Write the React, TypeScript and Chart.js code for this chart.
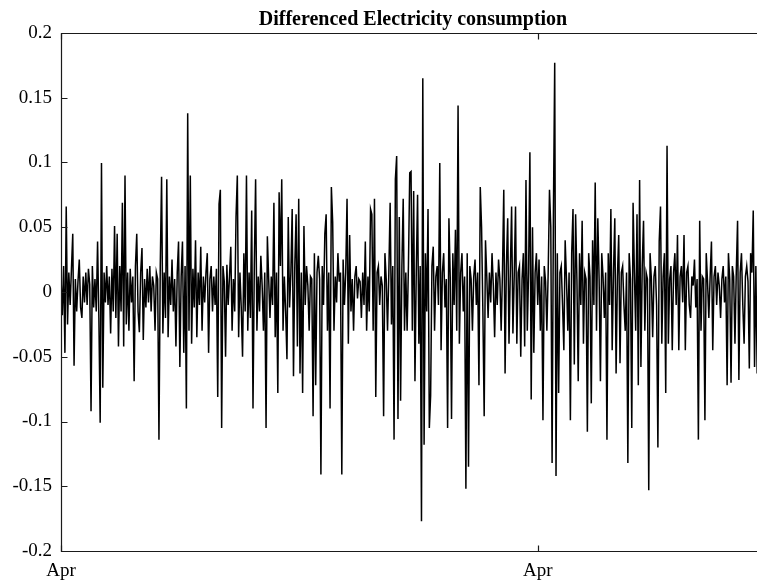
import React, { useEffect, useRef } from "react";
import { Chart, registerables } from "chart.js";

Chart.register(...registerables);

const titleText = "Differenced Electricity consumption";

// daily differenced consumption, starting in April
const diffValues: number[] = [
  0.012, -0.018, 0.02, -0.047, 0.066, -0.025, 0.015, -0.01, 0.018, 0.045, -0.057, 0.01, -0.015, 0.008, 0.025, -0.012, -0.02, 0.012, -0.008, 0.015,
  -0.01, 0.018, 0.006, -0.092, 0.02, -0.012, 0.01, -0.015, 0.039, -0.02, -0.101, 0.0996, -0.074, 0.015, -0.008, 0.02, -0.01, 0.012, -0.032, 0.018,
  -0.015, 0.051, -0.02, 0.045, -0.042, 0.02, -0.015, 0.069, -0.042, 0.09, -0.025, 0.015, -0.03, 0.018, -0.008, 0.012, -0.069, 0.02, 0.045, -0.015,
  -0.031, 0.015, 0.034, -0.037, 0.01, -0.012, 0.018, -0.008, 0.02, -0.015, 0.012, 0.005, -0.03, 0.015, 0.01, -0.114, 0.02, 0.089, -0.032, 0.015,
  -0.02, 0.087, -0.035, 0.012, -0.01, 0.025, -0.015, 0.01, -0.042, 0.015, 0.039, -0.058, 0.012, 0.039, -0.047, 0.02, -0.09, 0.138, -0.03, 0.09,
  -0.04, 0.018, -0.012, 0.04, -0.035, 0.015, -0.01, 0.035, -0.03, 0.012, -0.008, 0.015, 0.03, -0.047, 0.01, 0.02, -0.015, 0.012, -0.01, 0.018,
  -0.081, 0.068, 0.079, -0.105, 0.02, 0.008, -0.05, 0.021, -0.01, 0.012, 0.035, -0.03, 0.01, -0.015, 0.058, 0.09, -0.035, 0.015, -0.012, -0.05,
  0.03, -0.015, 0.09, -0.03, 0.015, -0.02, 0.063, -0.09, 0.02, 0.087, -0.03, 0.012, -0.015, 0.028, 0.005, -0.03, 0.015, -0.105, 0.043, 0.01,
  -0.02, 0.012, -0.01, 0.069, -0.035, 0.015, -0.078, 0.077, 0.02, 0.087, -0.03, 0.012, -0.015, -0.052, 0.058, -0.012, 0.015, 0.064, -0.065, 0.02,
  0.06, -0.042, 0.072, -0.063, 0.015, -0.078, 0.051, -0.01, 0.02, 0.005, -0.03, 0.012, 0.01, -0.096, 0.03, -0.072, 0.015, 0.028, 0.01, -0.141,
  0.02, -0.01, 0.045, 0.06, -0.03, 0.015, -0.09, 0.081, 0.054, -0.03, 0.012, -0.008, 0.03, 0.008, 0.015, -0.141, 0.025, -0.01, 0.015, 0.072,
  -0.04, 0.044, -0.015, 0.01, -0.03, 0.012, 0.02, -0.005, 0.01, 0.008, -0.02, 0.015, -0.01, 0.039, -0.03, 0.012, -0.015, 0.064, 0.06, -0.03,
  0.072, -0.081, 0.015, 0.02, -0.01, 0.012, 0.005, -0.096, 0.03, 0.01, -0.03, 0.015, 0.069, -0.025, 0.02, -0.114, 0.087, 0.105, -0.098, 0.058,
  -0.084, 0.02, 0.072, -0.03, 0.015, -0.03, 0.02, 0.092, 0.093, -0.03, 0.078, -0.069, 0.015, 0.075, -0.04, 0.02, -0.177, 0.165, -0.118, 0.03,
  -0.015, 0.064, -0.105, -0.08, 0.02, 0.035, -0.03, 0.012, 0.02, -0.01, 0.0996, -0.045, 0.015, 0.03, -0.012, 0.01, -0.105, 0.057, 0.012, -0.098,
  0.03, -0.01, 0.048, -0.03, 0.144, -0.04, 0.015, 0.03, -0.015, 0.012, -0.152, 0.03, -0.135, 0.02, 0.01, -0.03, 0.012, 0.025, -0.01, 0.015,
  -0.072, 0.081, 0.05, -0.015, -0.096, 0.04, 0.012, -0.02, 0.015, -0.008, 0.03, 0.005, -0.035, 0.015, -0.01, 0.025, 0.01, -0.03, 0.015, 0.079,
  -0.063, 0.02, 0.057, -0.04, 0.015, 0.066, -0.032, 0.012, 0.066, -0.04, 0.015, 0.02, -0.05, 0.01, 0.03, -0.042, 0.0865, -0.03, 0.015, 0.108,
  -0.083, 0.05, -0.047, 0.015, 0.03, -0.01, 0.025, -0.03, 0.012, -0.099, 0.02, 0.008, -0.03, 0.015, 0.079, 0.05, -0.132, 0.06, 0.177, -0.142,
  0.03, -0.078, 0.015, 0.02, -0.01, -0.045, 0.04, 0.01, -0.03, 0.015, -0.099, 0.03, 0.064, -0.056, 0.06, 0.01, -0.069, 0.03, -0.01, 0.055,
  -0.04, 0.015, 0.01, -0.108, 0.03, 0.012, -0.086, 0.04, -0.01, 0.0846, -0.03, 0.057, 0.01, -0.069, 0.03, 0.012, -0.02, 0.015, -0.114, 0.03,
  -0.01, 0.064, -0.045, 0.015, 0.057, -0.063, 0.012, 0.044, -0.055, 0.015, 0.02, -0.01, -0.03, 0.015, -0.132, 0.03, 0.01, -0.105, 0.069, 0.015,
  -0.03, 0.06, -0.072, 0.0865, -0.058, 0.02, 0.055, -0.03, 0.015, 0.01, -0.153, 0.03, 0.01, -0.035, 0.012, 0.02, -0.01, -0.12, 0.039, 0.066,
  -0.04, 0.012, 0.03, -0.078, 0.113, -0.04, 0.01, 0.02, -0.045, 0.015, 0.03, -0.01, 0.044, -0.045, 0.012, 0.02, -0.008, 0.044, -0.045, 0.015,
  0.02, -0.01, -0.02, 0.012, 0.005, 0.025, -0.012, 0.01, -0.114, 0.055, -0.03, 0.012, 0.01, -0.099, 0.03, 0.008, -0.02, 0.012, 0.039, -0.045,
  0.012, 0.02, -0.01, 0.015, 0.005, -0.02, 0.01, 0.02, -0.008, 0.012, -0.072, 0.03, 0.01, -0.07, 0.02, 0.012, -0.04, 0.015, 0.055, -0.068,
  0.015, 0.03, -0.01, -0.04, 0.012, 0.02, 0.008, -0.059, 0.03, 0.015, 0.063, -0.058, 0.02, -0.063, 0.02, 0.012, 0.03, -0.03, 0.015, 0.01,
];

const xTickPositions: number[] = [0, 365];
const xTickLabels: string[] = ["Apr", "Apr"];
const yTickValues: number[] = [-0.2, -0.15, -0.1, -0.05, 0, 0.05, 0.1, 0.15, 0.2];
const yTickLabels: string[] = ["-0.2", "-0.15", "-0.1", "-0.05", "0", "0.05", "0.1", "0.15", "0.2"];

const FONT = "'Liberation Serif', 'Times New Roman', serif";

const boxPlugin = {
  id: "matlabBox",
  afterDraw(chart: any) {
    const { ctx, chartArea } = chart;
    const { left, top, right, bottom } = chartArea;
    const xs = chart.scales.x;
    const ys = chart.scales.y;
    const L = Math.round(left) + 0.5;
    const T = Math.round(top) + 0.5;
    const R = Math.round(right) + 0.5;
    const B = Math.round(bottom) + 0.5;
    ctx.save();
    ctx.strokeStyle = "#1a1a1a";
    ctx.lineWidth = 1.2;
    ctx.beginPath();
    ctx.moveTo(L, T);
    ctx.lineTo(R, T);
    ctx.lineTo(R, B);
    ctx.lineTo(L, B);
    ctx.closePath();
    ctx.stroke();
    const tl = 6;
    ctx.beginPath();
    yTickValues.forEach((v) => {
      const py = Math.round(ys.getPixelForValue(v)) + 0.5;
      ctx.moveTo(L, py);
      ctx.lineTo(L + tl, py);
      ctx.moveTo(R, py);
      ctx.lineTo(R - tl, py);
    });
    xTickPositions.forEach((v) => {
      const px = Math.round(xs.getPixelForValue(v)) + 0.5;
      ctx.moveTo(px, B);
      ctx.lineTo(px, B - tl);
      ctx.moveTo(px, T);
      ctx.lineTo(px, T + tl);
    });
    ctx.stroke();
    ctx.restore();
  },
};

export default function App() {
  const canvasRef = useRef<HTMLCanvasElement | null>(null);

  useEffect(() => {
    if (!canvasRef.current) return;
    const points = diffValues.map((v, i) => ({ x: i, y: v }));
    const chart = new Chart(canvasRef.current, {
      type: "line",
      data: {
        datasets: [
          {
            data: points,
            borderColor: "#000000",
            borderWidth: 1.5,
            pointRadius: 0,
            tension: 0,
            fill: false,
          },
        ],
      },
      options: {
        animation: false,
        responsive: false,
        maintainAspectRatio: false,
        devicePixelRatio: 1,
        layout: { padding: { left: 0, right: 1, top: 0, bottom: 0 } },
        plugins: {
          legend: { display: false },
          tooltip: { enabled: false },
          title: {
            display: true,
            text: titleText,
            fullSize: false,
            color: "#000",
            font: { family: FONT, size: 20, weight: "bold" },
            padding: { top: 8, bottom: 1 },
          },
        },
        scales: {
          x: {
            type: "linear",
            min: 0,
            max: diffValues.length - 1,
            grid: { display: false, drawTicks: false },
            border: { display: false },
            afterFit: (scale: any) => {
              scale.height = 30;
            },
            afterBuildTicks: (scale: any) => {
              scale.ticks = xTickPositions.map((v) => ({ value: v }));
            },
            ticks: {
              autoSkip: false,
              maxRotation: 0,
              padding: 9,
              color: "#000",
              font: { family: FONT, size: 19 },
              callback: (value: any) => {
                const i = xTickPositions.indexOf(Number(value));
                return i >= 0 ? xTickLabels[i] : "";
              },
            },
          },
          y: {
            type: "linear",
            min: -0.2,
            max: 0.2,
            grid: { display: false, drawTicks: false },
            border: { display: false },
            afterFit: (scale: any) => {
              scale.width = 61;
            },
            afterBuildTicks: (scale: any) => {
              scale.ticks = yTickValues.map((v) => ({ value: v }));
            },
            ticks: {
              autoSkip: false,
              padding: 9,
              color: "#000",
              font: { family: FONT, size: 19 },
              callback: (value: any) => {
                const i = yTickValues.findIndex((t) => Math.abs(t - Number(value)) < 1e-9);
                return i >= 0 ? yTickLabels[i] : "";
              },
            },
          },
        },
      },
      plugins: [boxPlugin],
    });
    return () => chart.destroy();
  }, []);

  return (
    <div
      style={{
        position: "fixed",
        left: 0,
        top: 0,
        width: 757,
        height: 581,
        overflow: "hidden",
        background: "#fff",
      }}
    >
      <canvas ref={canvasRef} width={766} height={581} style={{ display: "block" }} />
    </div>
  );
}
